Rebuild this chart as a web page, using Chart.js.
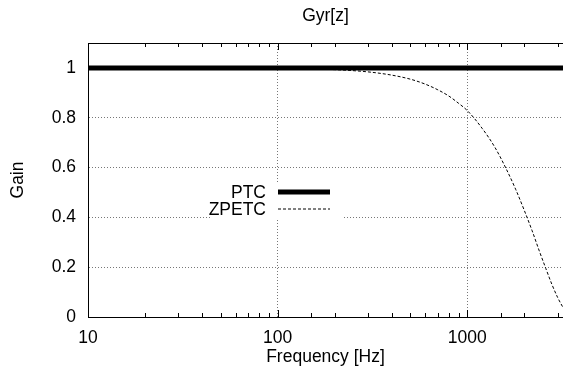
<!DOCTYPE html>
<html>
<head>
<meta charset="utf-8">
<script src="https://cdn.jsdelivr.net/npm/chart.js@4/dist/chart.umd.min.js"></script>
<style>
  html, body { margin: 0; padding: 0; background: #fff; }
</style>
</head>
<body>
<canvas id="gyrChart" width="563" height="375"></canvas>
<script>
// PTC: flat unity gain across the whole band
const ptcFreq = [10, 3200];
const ptcGain = [1, 1];

// ZPETC: gain
const zpetcFreq = [10, 100, 200, 300, 400, 500, 600, 700, 800, 900, 1000, 1200, 1400, 1600, 1800, 2000, 2200, 2400, 2600, 2800, 3000, 3200];
const zpetcGain = [1.0, 0.998, 0.993, 0.984, 0.971, 0.955, 0.935, 0.912, 0.887, 0.858, 0.829, 0.757, 0.681, 0.597, 0.513, 0.428, 0.346, 0.265, 0.194, 0.13, 0.078, 0.038];

const yTicks = [0, 0.2, 0.4, 0.6, 0.8, 1];
const xLabels = [10, 100, 1000];

const toPoints = (xs, ys) => xs.map((x, i) => ({ x: x, y: ys[i] }));
const isDecade = v => Math.abs(Math.log10(v) - Math.round(Math.log10(v))) < 1e-6;

const FONT_SIZE = 17.5;
Chart.defaults.font.family = '"Liberation Sans", Arial, sans-serif';
Chart.defaults.font.size = FONT_SIZE;
Chart.defaults.color = '#000';

// gnuplot style: top border, inward ticks, key with white box
const framePlugin = {
    id: 'frame',
    afterDatasetsDraw(chart, args, opts) {
        const ctx = chart.ctx;
        const area = chart.chartArea;
        const xs = chart.scales.x;

        ctx.save();
        ctx.strokeStyle = '#000';
        ctx.lineWidth = 1;
        ctx.beginPath();
        ctx.moveTo(area.left, area.top + 0.5);
        ctx.lineTo(area.right, area.top + 0.5);
        xs.ticks.forEach(t => {
            const px = Math.round(xs.getPixelForValue(t.value)) + 0.5;
            const len = isDecade(t.value) ? 7 : 4;
            ctx.moveTo(px, area.bottom);
            ctx.lineTo(px, area.bottom - len);
            ctx.moveTo(px, area.top);
            ctx.lineTo(px, area.top + len);
        });
        ctx.stroke();

        // key
        const k = opts.key;
        ctx.fillStyle = '#fff';
        ctx.fillRect(k.boxLeft, k.boxTop, k.boxWidth, k.boxHeight);
        ctx.font = FONT_SIZE + 'px "Liberation Sans", Arial, sans-serif';
        ctx.textAlign = 'right';
        ctx.textBaseline = 'middle';
        chart.data.datasets.forEach((ds, i) => {
            const y = k.top + i * k.rowHeight;
            ctx.fillStyle = '#000';
            ctx.fillText(ds.label, k.textRight, y + 1);
            ctx.strokeStyle = ds.borderColor;
            ctx.lineWidth = ds.borderWidth;
            ctx.setLineDash(ds.borderDash || []);
            ctx.beginPath();
            ctx.moveTo(k.lineLeft, y);
            ctx.lineTo(k.lineRight, y);
            ctx.stroke();
        });
        ctx.restore();
    }
};

new Chart(document.getElementById('gyrChart'), {
    type: 'line',
    data: {
        datasets: [{
            label: 'PTC',
            data: toPoints(ptcFreq, ptcGain),
            borderColor: '#000',
            borderWidth: 5,
            pointRadius: 0
        }, {
            label: 'ZPETC',
            data: toPoints(zpetcFreq, zpetcGain),
            borderColor: '#000',
            borderWidth: 1,
            borderDash: [3, 2],
            pointRadius: 0,
            cubicInterpolationMode: 'monotone'
        }]
    },
    options: {
        responsive: false,
        animation: false,
        devicePixelRatio: 1,
        layout: { padding: 0 },
        plugins: {
            legend: { display: false },
            tooltip: { enabled: false },
            title: { display: false },
            frame: {
                key: {
                    boxLeft: 212, boxTop: 182, boxWidth: 130, boxHeight: 38,
                    top: 192, rowHeight: 17,
                    textRight: 266, lineLeft: 278, lineRight: 330
                }
            }
        },
        scales: {
            x: {
                type: 'logarithmic',
                min: 10,
                max: 3200,
                afterFit: s => { s.height = 58; s.paddingRight = 0; s.paddingLeft = 0; },
                border: { display: true, color: '#000', width: 1, dash: [1, 2] },
                grid: {
                    drawTicks: false,
                    lineWidth: 1,
                    color: c => (c.tick && isDecade(c.tick.value) && c.tick.value > 10) ? '#777' : 'rgba(0,0,0,0)'
                },
                ticks: {
                    autoSkip: false,
                    maxRotation: 0,
                    padding: 11,
                    callback: v => xLabels.includes(v) ? String(v) : ''
                },
                title: {
                    display: true,
                    text: 'Frequency [Hz]',
                    font: { size: FONT_SIZE },
                    padding: { top: 8, bottom: 7 }
                }
            },
            // top axis only carries the plot title, centred over the plot area
            top: {
                type: 'logarithmic',
                position: 'top',
                min: 10,
                max: 3200,
                afterFit: s => { s.height = 43; s.paddingRight = 0; s.paddingLeft = 0; },
                border: { display: false },
                grid: { display: false },
                ticks: { display: false },
                title: {
                    display: true,
                    text: 'Gyr[z]',
                    font: { size: FONT_SIZE },
                    padding: { top: 5.5, bottom: 0 }
                }
            },
            y: {
                min: 0,
                max: 1.1,
                afterFit: s => { s.width = 88; },
                afterBuildTicks: s => { s.ticks = yTicks.map(v => ({ value: v })); },
                border: { display: true, color: '#000', width: 1, dash: [1, 2] },
                grid: {
                    drawTicks: false,
                    lineWidth: 1,
                    color: c => (c.tick && c.tick.value > 0) ? '#777' : 'rgba(0,0,0,0)'
                },
                ticks: {
                    padding: 12,
                    callback: v => String(v)
                },
                title: {
                    display: true,
                    text: 'Gain',
                    font: { size: FONT_SIZE },
                    padding: { top: 8, bottom: 8 }
                }
            }
        }
    },
    plugins: [framePlugin]
});
</script>
</body>
</html>
